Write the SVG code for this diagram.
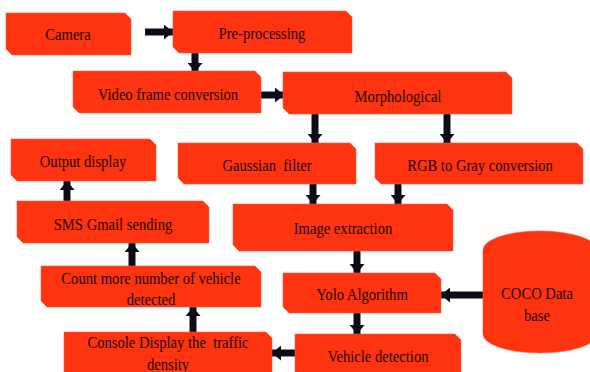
<svg xmlns="http://www.w3.org/2000/svg" width="590" height="372" viewBox="0 0 590 372">
<style>
.box{fill:#FE330F;stroke:#FF6040;stroke-width:0.6}
.t{font-family:"Liberation Serif","Times New Roman",serif;font-size:17px;fill:#1a0808;text-anchor:middle}
.c{stroke:#0c0c18;stroke-width:7;fill:none;marker-end:url(#ah)}
</style>
<defs>
<marker id="ah" markerUnits="userSpaceOnUse" markerWidth="9" markerHeight="15" viewBox="0 0 9 15" refX="9" refY="7.5" orient="auto">
<path d="M0,0 L9,7.5 L0,15 Z" fill="#0c0c18"/>
</marker>
</defs>
<rect width="590" height="372" fill="#fff"/>
<g id="connectors">
<line class="c" x1="145" y1="32" x2="173" y2="32"/>
<line class="c" x1="195" y1="53" x2="195" y2="72"/>
<line class="c" x1="261" y1="95" x2="284" y2="95"/>
<line class="c" x1="315" y1="114" x2="315" y2="143"/>
<line class="c" x1="447" y1="114" x2="447" y2="143"/>
<line class="c" x1="313" y1="184" x2="313" y2="204"/>
<line class="c" x1="398" y1="184" x2="398" y2="204"/>
<line class="c" x1="357" y1="251" x2="357" y2="273"/>
<line class="c" x1="483" y1="295" x2="441" y2="295"/>
<line class="c" x1="357" y1="313" x2="357" y2="334"/>
<line class="c" x1="295" y1="353" x2="272" y2="353"/>
<line class="c" x1="193" y1="332" x2="193" y2="307"/>
<line class="c" x1="132" y1="266" x2="132" y2="243"/>
<line class="c" x1="67" y1="201" x2="67" y2="181"/>
</g>
<g id="camera"><path class="box" d="M6,13 H125 L131,19 V55 H12 L6,49 Z"/><text class="t" transform="translate(68,40) scale(0.86,1)">Camera</text></g>
<g id="preprocessing"><path class="box" d="M173,11 H346 L352,17 V53 H179 L173,47 Z"/><text class="t" transform="translate(262,39) scale(0.86,1)">Pre-processing</text></g>
<g id="video"><path class="box" d="M73,71 H255 L261,77 V113 H79 L73,107 Z"/><text class="t" transform="translate(168,100) scale(0.86,1)">Video frame conversion</text></g>
<g id="morphological"><path class="box" d="M283,72 H506 L512,78 V114 H289 L283,108 Z"/><text class="t" transform="translate(398,102) scale(0.86,1)">Morphological</text></g>
<g id="gaussian"><path class="box" d="M178,143 H350 L356,149 V184 H184 L178,178 Z"/><text class="t" transform="translate(267,171) scale(0.86,1)" xml:space="preserve">Gaussian  filter</text></g>
<g id="rgb"><path class="box" d="M375,143 H577 L583,149 V184 H381 L375,178 Z"/><text class="t" transform="translate(480,171) scale(0.86,1)">RGB to Gray conversion</text></g>
<g id="image"><path class="box" d="M233,204 H447 L453,210 V251 H239 L233,245 Z"/><text class="t" transform="translate(343,234) scale(0.86,1)">Image extraction</text></g>
<g id="yolo"><path class="box" d="M283,273 H435 L441,279 V313 H289 L283,307 Z"/><text class="t" transform="translate(362,300) scale(0.86,1)">Yolo Algorithm</text></g>
<g id="coco"><path class="box" d="M483,250 A57,19 0 0 1 597,250 V334 A57,19 0 0 1 483,334 Z"/><text class="t" transform="translate(537,299) scale(0.86,1)">COCO Data</text><text class="t" transform="translate(537,321) scale(0.86,1)">base</text></g>
<g id="vehicle"><path class="box" d="M295,334 H455 L461,340 V382 H295 Z"/><text class="t" transform="translate(378,362) scale(0.86,1)">Vehicle detection</text></g>
<g id="console"><path class="box" d="M64,332 H266 L272,338 V382 H64 Z"/><text class="t" transform="translate(168,348) scale(0.86,1)" xml:space="preserve">Console Display the  traffic</text><text class="t" transform="translate(168,370) scale(0.86,1)">density</text></g>
<g id="count"><path class="box" d="M41,266 H255 L261,272 V307 H47 L41,301 Z"/><text class="t" transform="translate(151,284) scale(0.86,1)">Count more number of vehicle</text><text class="t" transform="translate(151,305) scale(0.86,1)">detected</text></g>
<g id="sms"><path class="box" d="M17,201 H203 L209,207 V243 H23 L17,237 Z"/><text class="t" transform="translate(113,230) scale(0.86,1)">SMS Gmail sending</text></g>
<g id="output"><path class="box" d="M11,139 H150 L156,145 V181 H17 L11,175 Z"/><text class="t" transform="translate(83,167) scale(0.86,1)">Output display</text></g>
</svg>
